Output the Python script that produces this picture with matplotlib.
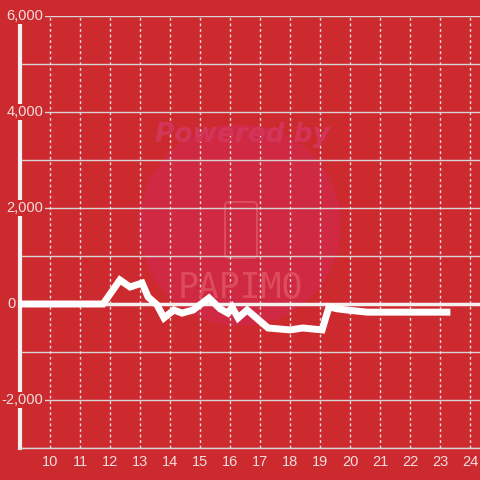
import matplotlib.pyplot as plt
from matplotlib.patches import Circle, FancyBboxPatch

# values
hours = [9.0, 11.77, 12.33, 12.67, 13.07, 13.27, 13.57, 13.8, 14.13, 14.4, 14.77,
         15.3, 15.67, 15.93, 16.07, 16.27, 16.57, 17.27, 18.0, 18.43, 19.07,
         19.3, 19.57, 19.9, 20.57, 23.23]
values = [0, 0, 500, 354, 437, 146, -21, -290, -125, -190, -125,
          125, -100, -190, -70, -290, -125, -500, -540, -500, -540,
          -60, -100, -125, -170, -170]
xticks = list(range(10, 25))
yticks = [-2000, 0, 2000, 4000, 6000]
ylabels = ['-2,000', '0', '2,000', '4,000', '6,000']

bg = '#cd2a2f'
txt = '#f3dede'

fig = plt.figure(figsize=(4.8, 4.8), dpi=100, facecolor=bg)
ax = fig.add_axes([20/480, 32/480, 460/480, 432/480], facecolor=bg)
ax.set_xlim(9, 24.333)
ax.set_ylim(-3000, 6000)

# watermark
wm = Circle((240/480, 255/480), 100/480, transform=fig.transFigure,
            color='#d0294a', alpha=0.8, zorder=0)
ax.add_patch(wm)
fig.text(242/480, 1 - 135/480, 'Powered by', ha='center', va='center',
         fontsize=19, fontweight='bold', style='italic', color='#d33558',
         family='DejaVu Sans', zorder=1)
fig.text(240/480, 1 - 287/480, 'PAPIMO', ha='center', va='center',
         fontsize=25, color='#dc4c5c', family='DejaVu Sans Mono', zorder=1)
ax.add_patch(FancyBboxPatch((225/480, 1 - 258/480), 32/480, 56/480,
                            boxstyle='round,pad=0,rounding_size=0.008',
                            transform=fig.transFigure, fill=False,
                            ec='#dc4c5c', lw=1.5, zorder=1))

# grid
for v in range(-3000, 6001, 1000):
    if v != 0:
        ax.axhline(v, color='#d9d3d3', lw=1, zorder=2)
for x in xticks:
    ax.axvline(x, color='#e8e0e0', lw=1, ls=(0, (2, 2)), zorder=2)
ax.axhline(0, color='#f5f0f0', lw=2.5, zorder=2)

ax.plot(hours, values, color='white', lw=5, solid_joinstyle='miter', zorder=3)

for s in ['top', 'right']:
    ax.spines[s].set_visible(False)
ax.spines['left'].set_color('#f5f0f0')
ax.spines['left'].set_linewidth(3)
ax.spines['bottom'].set_color('#d9d3d3')
ax.spines['bottom'].set_linewidth(1)

ax.set_xticks(xticks)
ax.set_xticklabels([str(x) for x in xticks], family='Liberation Sans')
ax.set_yticks([])
ax.tick_params(axis='x', length=0, colors=txt, labelsize=10.5, pad=5)

# y labels sit over the axis line with a background box; "0" sits left of it
for v, lab in zip(yticks, ylabels):
    if v == 0:
        ax.text(8.867, v, lab, ha='right', va='center', color=txt,
                fontsize=10.5, family='Liberation Sans', clip_on=False, zorder=6)
    else:
        ax.text(9.77, v, lab, ha='right', va='center', color=txt, fontsize=10.5,
                family='Liberation Sans', clip_on=False, zorder=6,
                bbox=dict(facecolor=bg, edgecolor='none', pad=1))

fig.savefig('out.png', dpi=100, facecolor=bg)
